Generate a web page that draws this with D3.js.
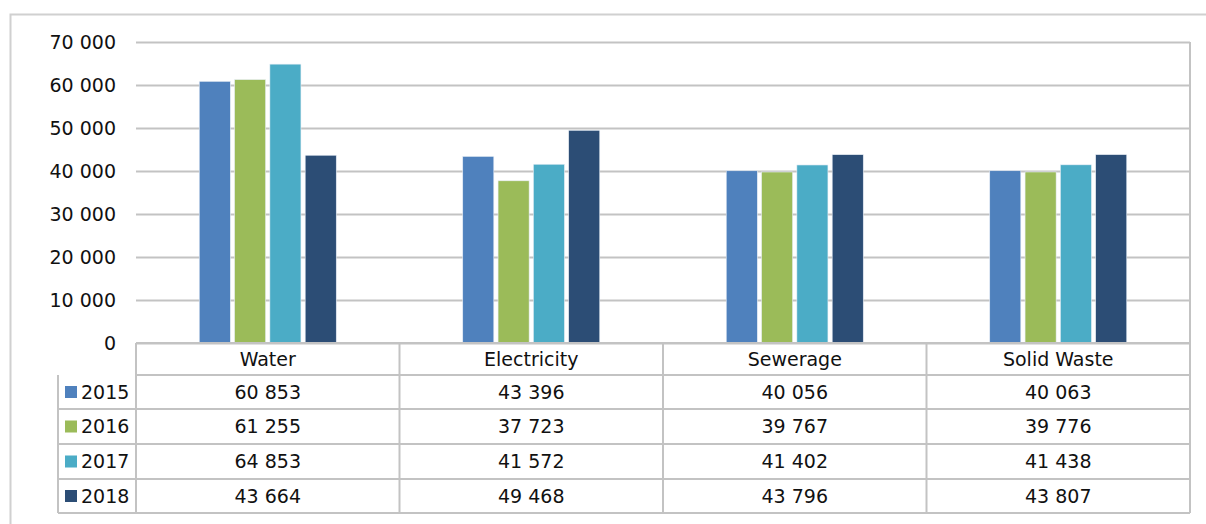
<!DOCTYPE html>
<html>
<head>
<meta charset="utf-8">
<script src="https://cdn.jsdelivr.net/npm/d3@7"></script>
<style>
  body { margin: 0; background: #fff; }
  text { font-family: "DejaVu Sans", sans-serif; fill: #111; }
</style>
</head>
<body>
<div id="chart"></div>
<script>

// data
var categories = ["Water", "Electricity", "Sewerage", "Solid Waste"];
var years = ["2015", "2016", "2017", "2018"];
var v2015 = [60853, 43396, 40056, 40063];
var v2016 = [61255, 37723, 39767, 39776];
var v2017 = [64853, 41572, 41402, 41438];
var v2018 = [43664, 49468, 43796, 43807];
var yTicks = [0, 10000, 20000, 30000, 40000, 50000, 60000, 70000];
var colors = ["#4f81bd", "#9bbb59", "#4bacc6", "#2c4d75"];

var series = [v2015, v2016, v2017, v2018];

// dimensions
var W = 1206, H = 524;
var plot = {left: 136, right: 1190, top: 42, bottom: 343};
var rowH = [32, 34, 35, 35, 34]; // header row + 4 year rows
var legendLeft = 58;
var grid = "#c3c3c3";
var fs = 19;

var loc = d3.formatLocale({decimal: ",", thousands: " ", grouping: [3], currency: ["", ""]});
var fmt = loc.format(",d");

var svg = d3.select("#chart")
  .append("svg")
    .attr("width", W)
    .attr("height", H);

// outer chart border
svg.append("path")
  .attr("d", "M10.5," + H + "V14.5H" + W)
  .attr("fill", "none")
  .attr("stroke", "#d0d0d0")
  .attr("stroke-width", 2);

var x0 = d3.scaleBand()
  .domain(categories)
  .range([plot.left, plot.right]);

var bw = x0.bandwidth();
var x1 = d3.scaleBand()
  .domain(years)
  .range([bw * 0.24, bw * 0.76])
  .paddingInner(0.12);

var y = d3.scaleLinear()
  .domain([0, 70000])
  .range([plot.bottom, plot.top]);

// gridlines + y labels
var yAxis = svg.append("g")
  .attr("transform", "translate(" + plot.left + ",0)")
  .call(d3.axisLeft(y).tickValues(yTicks).tickFormat(fmt)
    .tickSize(-(plot.right - plot.left)).tickPadding(20));
yAxis.select(".domain").remove();
yAxis.selectAll(".tick line")
  .attr("stroke", grid)
  .attr("stroke-width", 2);
yAxis.selectAll(".tick text")
  .attr("font-size", fs)
  .attr("font-family", "DejaVu Sans, sans-serif")
  .attr("fill", "#111");

// right edge of plot
svg.append("line")
  .attr("x1", plot.right).attr("x2", plot.right)
  .attr("y1", plot.top).attr("y2", plot.bottom)
  .attr("stroke", grid).attr("stroke-width", 2);

// bars
var groups = svg.append("g")
  .selectAll("g")
  .data(categories)
  .enter()
  .append("g")
    .attr("transform", function(d) { return "translate(" + x0(d) + ",0)"; });

groups.selectAll("rect")
  .data(function(d, i) { return years.map(function(yr, j) { return {year: yr, value: series[j][i], j: j}; }); })
  .enter()
  .append("rect")
    .attr("x", function(d) { return x1(d.year); })
    .attr("y", function(d) { return y(d.value); })
    .attr("width", x1.bandwidth())
    .attr("height", function(d) { return plot.bottom - y(d.value); })
    .attr("fill", function(d) { return colors[d.j]; })
    .attr("stroke", "#e8eef6")
    .attr("stroke-width", 0.6);

// data table
var rowY = [plot.bottom];
rowH.forEach(function(h) { rowY.push(rowY[rowY.length - 1] + h); });
var tbl = svg.append("g");

// horizontal lines
tbl.selectAll("line.h")
  .data(rowY)
  .enter()
  .append("line")
    .attr("x1", function(d, i) { return i < 2 ? plot.left : legendLeft; })
    .attr("x2", plot.right)
    .attr("y1", function(d) { return d; })
    .attr("y2", function(d) { return d; })
    .attr("stroke", grid).attr("stroke-width", 2);

// vertical lines
var colX = [plot.left].concat(categories.map(function(c) { return x0(c) + bw; }));
tbl.selectAll("line.v")
  .data(colX)
  .enter()
  .append("line")
    .attr("x1", function(d) { return d; })
    .attr("x2", function(d) { return d; })
    .attr("y1", plot.bottom)
    .attr("y2", rowY[rowY.length - 1])
    .attr("stroke", grid).attr("stroke-width", 2);
tbl.append("line")
  .attr("x1", legendLeft).attr("x2", legendLeft)
  .attr("y1", rowY[1]).attr("y2", rowY[rowY.length - 1])
  .attr("stroke", grid).attr("stroke-width", 2);

// header labels
tbl.selectAll("text.cat")
  .data(categories)
  .enter()
  .append("text")
    .attr("x", function(d) { return x0(d) + bw / 2; })
    .attr("y", (rowY[0] + rowY[1]) / 2)
    .attr("dy", "0.36em")
    .attr("text-anchor", "middle")
    .attr("font-size", fs)
    .text(function(d) { return d; });

// year rows
years.forEach(function(yr, j) {
  var cy = (rowY[j + 1] + rowY[j + 2]) / 2;
  tbl.append("rect")
    .attr("x", 65).attr("y", cy - 6)
    .attr("width", 12).attr("height", 12)
    .attr("fill", colors[j]);
  tbl.append("text")
    .attr("x", 81).attr("y", cy)
    .attr("dy", "0.36em")
    .attr("font-size", fs)
    .text(yr);
  tbl.selectAll("text.v" + j)
    .data(series[j])
    .enter()
    .append("text")
      .attr("x", function(d, i) { return x0(categories[i]) + bw / 2; })
      .attr("y", cy)
      .attr("dy", "0.36em")
      .attr("text-anchor", "middle")
      .attr("font-size", fs)
      .text(function(d) { return fmt(d); });
});

</script>
</body>
</html>
